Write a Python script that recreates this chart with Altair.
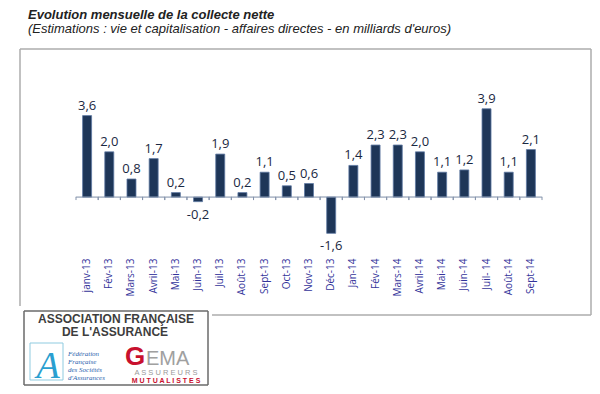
import altair as alt
import pandas as pd

months = ["janv-13", "Fév-13", "Mars-13", "Avril-13", "Mai-13", "Juin-13", "Juil-13",
          "Août-13", "Sept-13", "Oct-13", "Nov-13", "Déc-13", "Jan-14", "Fév-14",
          "Mars-14", "Avril-14", "Mai-14", "Juin-14", "Juil- 14", "Août-14", "Sept-14"]
values = [3.6, 2.0, 0.8, 1.7, 0.2, -0.2, 1.9, 0.2, 1.1, 0.5, 0.6, -1.6,
          1.4, 2.3, 2.3, 2.0, 1.1, 1.2, 3.9, 1.1, 2.1]

title = "Evolution mensuelle de la collecte nette"
subtitle = "(Estimations : vie et capitalisation - affaires directes - en milliards d'euros)"

df = pd.DataFrame({
    "month": months,
    "value": values,
    "zero": [0.0] * len(months),
    "tick": [-0.13] * len(months),
    "label": [f"{v:.1f}".replace(".", ",") for v in values],
})
one = pd.DataFrame({"k": [0]})

W, H = 466, 154
STEP = W / len(months)
xs = alt.Scale(type="band", domain=months, paddingInner=0, paddingOuter=0)
ys = alt.Scale(domain=[-2.6, 4.2], nice=False, zero=False)

X = alt.X("month:N", scale=xs,
          axis=alt.Axis(title=None, labelAngle=-90, domain=False, ticks=False,
                        labelPadding=2, labelColor="#33339a", labelFont="Open Sans",
                        labelFontSize=10, labelOverlap=False, grid=False))
Y = alt.Y("value:Q", scale=ys, axis=None)

base = alt.Chart(df)


def hline(x1, x2, y, color, w=1):
    return alt.Chart(one).mark_rule(color=color, strokeWidth=w).encode(
        x=alt.value(x1), x2=alt.value(x2), y=alt.value(y))


def vline(x, y1, y2, color, w=1):
    return alt.Chart(one).mark_rule(color=color, strokeWidth=w).encode(
        x=alt.value(x), y=alt.value(y1), y2=alt.value(y2))


def frame(x1, x2, y1, y2, color, w=1):
    return [hline(x1, x2, y1, color, w), hline(x1, x2, y2, color, w),
            vline(x1, y1, y2, color, w), vline(x2, y1, y2, color, w)]


def txt(t, x, y, **kw):
    return alt.Chart(one).mark_text(**kw).encode(
        x=alt.value(x), y=alt.value(y), text=alt.value(t))


box = frame(-56, 515, -53, 213, "#adadad", 1.5)

bars = base.mark_bar(size=9, color="#1e3658", stroke="#5f7aa3", strokeWidth=0.8).encode(
    x=X, y=Y, y2="zero:Q")

zero = base.mark_tick(color="#8493ab", thickness=1.5, size=STEP + 0.5, orient="horizontal").encode(
    x=X, y=alt.Y("zero:Q", scale=ys, axis=None))

ticks = base.mark_rule(color="#8493ab", strokeWidth=1, xOffset=-STEP / 2).encode(
    x=X, y=alt.Y("zero:Q", scale=ys, axis=None), y2="tick:Q")
ticks_end = base.mark_rule(color="#8493ab", strokeWidth=1, xOffset=STEP / 2).encode(
    x=X, y=alt.Y("zero:Q", scale=ys, axis=None), y2="tick:Q")

lab_style = dict(font="Open Sans", fontSize=13, color="#1a2842")
lab_pos = base.transform_filter(alt.datum.value >= 0).mark_text(
    baseline="bottom", dy=-3, **lab_style).encode(x=X, y=Y, text="label:N")
lab_neg = base.transform_filter(alt.datum.value < 0).mark_text(
    baseline="top", dy=7, **lab_style).encode(x=X, y=Y, text="label:N")

t1 = txt(title, -48, -83, align="left", baseline="alphabetic", font="Liberation Sans",
         fontStyle="italic", fontWeight="bold", fontSize=13, color="#222222")
t2 = txt(subtitle, -48, -69, align="left", baseline="alphabetic", font="Liberation Sans",
         fontStyle="italic", fontSize=13, color="#222222")

logo_bg = hline(-58, 136, 246, "white", 84)
logo_box = frame(-52, 132, 209, 283, "#6a6a6a", 1.5)
l1 = txt("ASSOCIATION FRANÇAISE", 40, 221, align="center", baseline="alphabetic",
         font="Liberation Sans", fontWeight="bold", fontSize=12, color="#3d3d3d")
l2 = txt("DE L'ASSURANCE", 39, 234, align="center", baseline="alphabetic",
         font="Liberation Sans", fontWeight="bold", fontSize=12, color="#3d3d3d")
ffsa_frame = frame(-46, -13, 241, 278, "#8fcbe0", 1)
ffsa_a = txt("A", -28, 276, align="center", baseline="alphabetic", font="Liberation Serif",
             fontStyle="italic", fontSize=38, color="#2a9fd0")
ff_lines = [txt(s, -8, yy, align="left", baseline="middle", font="Liberation Serif",
                fontStyle="italic", fontSize=7, color="#2b63ad")
            for s, yy in zip(["Fédération", "Française", "des Sociétés", "d'Assurances"],
                             [252, 260, 268, 276])]
g = txt("G", 49, 263, align="left", baseline="alphabetic", font="Liberation Sans",
        fontWeight="bold", fontSize=26, color="#c8102e")
ema = txt("EMA", 70, 263, align="left", baseline="alphabetic", font="Liberation Sans",
          fontSize=20, color="#a0a0a0")
assu = txt("A S S U R E U R S", 90, 273, align="center", baseline="alphabetic",
           font="Liberation Sans", fontSize=7.5, color="#9a9a9a")
mutu = txt("M U T U A L I S T E S", 90, 281, align="center", baseline="alphabetic",
           font="Liberation Sans", fontWeight="bold", fontSize=7, color="#c8102e")

chart = alt.layer(
    *box, bars, zero, ticks, ticks_end, lab_pos, lab_neg, t1, t2,
    logo_bg, *logo_box, l1, l2, *ffsa_frame, ffsa_a, *ff_lines, g, ema, assu, mutu
).properties(
    width=W, height=H,
    autosize=alt.AutoSizeParams(type="none"),
    padding={"left": 68, "top": 94, "right": 50, "bottom": 130},
    background="white",
).configure_view(stroke=None)

chart.save("out.html", embed_options={"renderer": "svg", "actions": False})
